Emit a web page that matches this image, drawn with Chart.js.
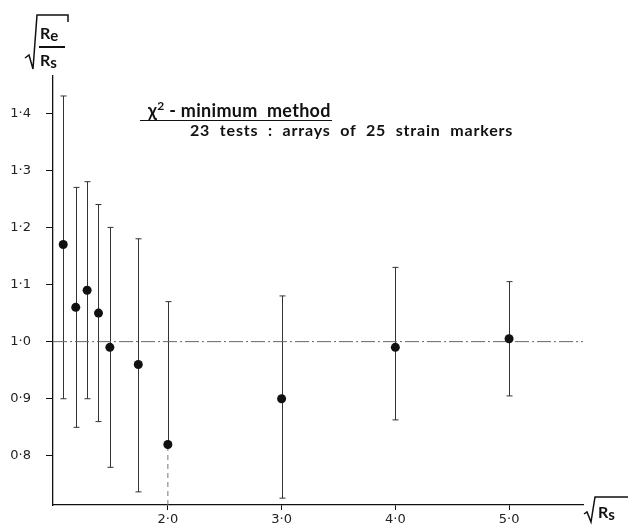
<!DOCTYPE html>
<html>
<head>
<meta charset="utf-8">
<script src="https://cdn.jsdelivr.net/npm/chart.js@4.4.1/dist/chart.umd.min.js"></script>
<style>
  html, body { margin: 0; padding: 0; background: #fff; }
  #wrap { position: relative; width: 629px; height: 529px; overflow: hidden; }
  #c { position: absolute; left: 0; top: 0; }
  .t { position: absolute; font-family: Lato, "DejaVu Sans", sans-serif; font-weight: 700;
       color: #111; white-space: pre; line-height: 1; }
  .sub { font-size: 15px; position: relative; top: 2px; }
  .sup { font-size: 12px; position: relative; top: -7px; }
  .rule { position: absolute; background: #111; }
  svg { position: absolute; left: 0; top: 0; }
</style>
</head>
<body>
<div id="wrap">
  <canvas id="c" width="629" height="529"></canvas>

  <!-- radicals for the axis labels -->
  <svg width="629" height="529">
    <polyline points="25,58 29,55 33,69 37,15 68,15 68,22" fill="none" stroke="#111" stroke-width="1.5"/>
    <polyline points="584,514 587,512 591,522 595,497 628,497" fill="none" stroke="#111" stroke-width="1.5"/>
  </svg>

  <!-- y label: sqrt(Re / Rs) -->
  <div class="t" style="left:40px;top:25px;font-size:16px;">R<span class="sub">e</span></div>
  <div class="rule" style="left:39px;top:46px;width:26px;height:1.5px;"></div>
  <div class="t" style="left:40px;top:52px;font-size:16px;">R<span class="sub">s</span></div>

  <!-- x label: sqrt(Rs) -->
  <div class="t" style="left:598px;top:504px;font-size:16px;">R<span class="sub">s</span></div>

  <!-- annotation -->
  <div class="t" style="left:148px;top:101px;font-size:18px;letter-spacing:0.3px;">χ<span class="sup">2</span> - minimum  method</div>
  <div class="rule" style="left:140px;top:120px;width:192px;height:1.3px;"></div>
  <div class="t" style="left:190px;top:122px;font-size:16px;letter-spacing:0.8px;word-spacing:5px;">23 tests : arrays of 25 strain markers</div>
</div>

<script>
// sqrt(Rs) against sqrt(Re/Rs), chi-square minimum method, with error bars
var xVals  = [1.08, 1.19, 1.29, 1.39, 1.49, 1.74, 2.0, 3.0, 4.0, 5.0];
var yVals  = [1.17, 1.06, 1.09, 1.05, 0.99, 0.96, 0.82, 0.90, 0.99, 1.005];
var errHi  = [1.43, 1.27, 1.28, 1.24, 1.20, 1.18, 1.07, 1.08, 1.13, 1.105];
var errLo  = [0.90, 0.85, 0.90, 0.86, 0.78, 0.737, null, 0.726, 0.863, 0.905];

var xTicks = [2, 3, 4, 5];
var xTickLabels = ['2·0', '3·0', '4·0', '5·0'];
var yTicks = [0.8, 0.9, 1.0, 1.1, 1.2, 1.3, 1.4];
var yTickLabels = ['0·8', '0·9', '1·0', '1·1', '1·2', '1·3', '1·4'];

// horizontal reference at 1.0, and the dashed drop below the 2.0 point
var refLine = [{ x: 0.99, y: 1.0 }, { x: 5.65, y: 1.0 }];
var dropLine = [{ x: 2.0, y: 0.714 }, { x: 2.0, y: 0.82 }];

var points = xVals.map(function (x, i) { return { x: x, y: yVals[i] }; });

// error bars drawn through the chart's scales
var errorBars = {
  id: 'errorBars',
  beforeDatasetsDraw: function (chart) {
    var ctx = chart.ctx, xs = chart.scales.x, ys = chart.scales.y;
    ctx.save();
    ctx.strokeStyle = '#333';
    ctx.lineWidth = 1;
    for (var i = 0; i < xVals.length; i++) {
      var px = Math.round(xs.getPixelForValue(xVals[i])) + 0.5;
      var top = ys.getPixelForValue(errHi[i]);
      var bot = ys.getPixelForValue(errLo[i] === null ? yVals[i] : errLo[i]);
      ctx.beginPath();
      ctx.moveTo(px, top); ctx.lineTo(px, bot);
      ctx.moveTo(px - 3, top); ctx.lineTo(px + 3, top);
      if (errLo[i] !== null) { ctx.moveTo(px - 3, bot); ctx.lineTo(px + 3, bot); }
      ctx.stroke();
    }
    ctx.restore();
  }
};

new Chart(document.getElementById('c').getContext('2d'), {
  type: 'scatter',
  data: {
    datasets: [
      { data: points, pointRadius: 4.5, pointHoverRadius: 4.5, backgroundColor: '#111',
        borderWidth: 0, order: 0 },
      { type: 'line', data: refLine, borderColor: '#666', borderWidth: 1,
        borderDash: [14, 3, 2, 3], pointRadius: 0, order: 2 },
      { type: 'line', data: dropLine, borderColor: '#777', borderWidth: 1,
        borderDash: [5, 4], pointRadius: 0, order: 2 }
    ]
  },
  options: {
    responsive: false,
    animation: false,
    devicePixelRatio: 1,
    layout: { padding: { top: 76, right: 46, left: 0, bottom: 0 } },
    plugins: { legend: { display: false }, tooltip: { enabled: false } },
    scales: {
      x: {
        type: 'linear', min: 0.99, max: 5.65,
        afterBuildTicks: function (s) { s.ticks = xTicks.map(function (v) { return { value: v }; }); },
        afterFit: function (s) { s.height = 24; },
        border: { display: true, color: '#111', width: 1.3 },
        grid: { drawOnChartArea: false, drawTicks: true, tickLength: 5, tickColor: '#111' },
        ticks: {
          padding: 2, color: '#222', maxRotation: 0,
          font: { family: 'DejaVu Sans', size: 13 },
          callback: function (v, i) { return xTickLabels[i]; }
        }
      },
      y: {
        type: 'linear', min: 0.714, max: 1.465,
        afterBuildTicks: function (s) { s.ticks = yTicks.map(function (v) { return { value: v }; }); },
        afterFit: function (s) { s.width = 53; },
        border: { display: true, color: '#111', width: 1.3 },
        grid: { drawOnChartArea: false, drawTicks: true, tickLength: 7, tickColor: '#111' },
        ticks: {
          padding: 15, color: '#222',
          font: { family: 'DejaVu Sans', size: 13 },
          callback: function (v, i) { return yTickLabels[i]; }
        }
      }
    }
  },
  plugins: [errorBars]
});
</script>
</body>
</html>
